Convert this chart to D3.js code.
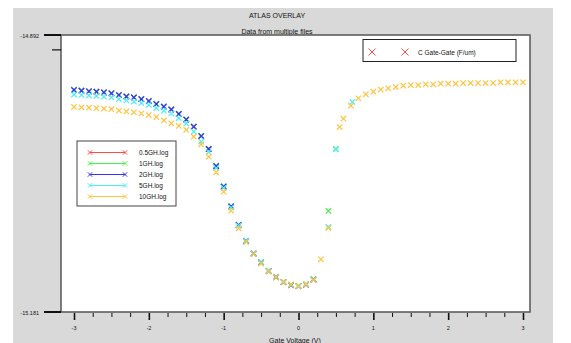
<!DOCTYPE html>
<html>
<head>
<meta charset="utf-8">
<script src="https://cdn.jsdelivr.net/npm/d3@7"></script>
<style>
  html, body { margin: 0; padding: 0; background: #fff; }
  svg { display: block; font-family: "Liberation Sans", Arial, sans-serif; }
</style>
</head>
<body>
<svg id="chart" width="571" height="343"></svg>
<script>
// gate voltage sweep shared by the 0.5/1/2/5 GHz files
const vSweep = [-3.0, -2.9, -2.8, -2.7, -2.6, -2.5, -2.4, -2.3, -2.2, -2.1, -2.0,
  -1.9, -1.8, -1.7, -1.6, -1.5, -1.4, -1.3, -1.2, -1.1, -1.0,
  -0.9, -0.8, -0.7, -0.6, -0.5, -0.4, -0.3, -0.2, -0.1, 0.0, 0.1, 0.2];

const logC05 = [-14.9492, -14.9501, -14.9509, -14.9513, -14.9520, -14.9529, -14.9547, -14.9560, -14.9571, -14.9590, -14.9610,
  -14.9641, -14.9667, -14.9699, -14.9745, -14.9804, -14.9878, -14.9975, -15.0111, -15.0289, -15.0503,
  -15.0712, -15.0905, -15.1072, -15.1203, -15.1296, -15.1385, -15.1448, -15.1500, -15.1531, -15.1541, -15.1526, -15.1476];

const logC1 = [-14.9490, -14.9499, -14.9506, -14.9511, -14.9517, -14.9527, -14.9544, -14.9561, -14.9571, -14.9587, -14.9607,
  -14.9637, -14.9665, -14.9695, -14.9742, -14.9800, -14.9875, -14.9972, -15.0106, -15.0284, -15.0498,
  -15.0706, -15.0900, -15.1067, -15.1198, -15.1291, -15.1380, -15.1443, -15.1495, -15.1526, -15.1537, -15.1521, -15.1468];
const vTail1 = [0.4, 0.5];
const logCTail1 = [-15.0756, -15.0109];

const logC2 = [-14.9494, -14.9501, -14.9507, -14.9512, -14.9518, -14.9528, -14.9546, -14.9562, -14.9572, -14.9588, -14.9609,
  -14.9640, -14.9668, -14.9697, -14.9744, -14.9802, -14.9877, -14.9974, -15.0109, -15.0287, -15.0501,
  -15.0709, -15.0902, -15.1069, -15.1200, -15.1293, -15.1382, -15.1445, -15.1497, -15.1528, -15.1539, -15.1523, -15.1471];

const logC5 = [-14.9541, -14.9546, -14.9551, -14.9556, -14.9564, -14.9572, -14.9588, -14.9603, -14.9614, -14.9629, -14.9650,
  -14.9682, -14.9710, -14.9739, -14.9786, -14.9843, -14.9927, -15.0033, -15.0141, -15.0308, -15.0516,
  -15.0720, -15.0908, -15.1069, -15.1200, -15.1293, -15.1382, -15.1445, -15.1497, -15.1528, -15.1539, -15.1523, -15.1471];
const vTail5 = [0.4, 0.5, 0.72];
const logCTail5 = [-15.0923, -15.0113, -14.9619];

// the 10 GHz file covers the whole sweep
const v10 = [-3.0, -2.9, -2.8, -2.7, -2.6, -2.5, -2.4, -2.3, -2.2, -2.1, -2.0,
  -1.9, -1.8, -1.7, -1.6, -1.5, -1.4, -1.3, -1.2, -1.1, -1.0,
  -0.9, -0.8, -0.7, -0.6, -0.5, -0.4, -0.3, -0.2, -0.1, 0.0, 0.1, 0.2, 0.3, 0.4,
  0.55, 0.6, 0.7, 0.8, 0.9, 1.0, 1.1, 1.2, 1.3, 1.4, 1.5, 1.6, 1.7, 1.8, 1.9, 2.0,
  2.1, 2.2, 2.3, 2.4, 2.5, 2.6, 2.7, 2.8, 2.9, 3.0];
const logC10 = [-14.9671, -14.9674, -14.9679, -14.9684, -14.9687, -14.9694, -14.9708, -14.9718, -14.9727, -14.9739, -14.9755,
  -14.9776, -14.9812, -14.9841, -14.9869, -14.9911, -14.9981, -15.0060, -15.0190, -15.0352, -15.0555,
  -15.0753, -15.0937, -15.1080, -15.1205, -15.1304, -15.1387, -15.1445, -15.1497, -15.1523, -15.1539, -15.1518, -15.1476, -15.1260, -15.0934,
  -14.9880, -14.9793, -14.9658, -14.9580, -14.9539, -14.9512, -14.9491, -14.9476, -14.9463, -14.9449, -14.9442, -14.9442, -14.9434, -14.9434, -14.9428, -14.9428,
  -14.9428, -14.9421, -14.9421, -14.9421, -14.9421, -14.9421, -14.9414, -14.9414, -14.9414, -14.9414];

const fileNames = ['0.5GH.log', '1GH.log', '2GH.log', '5GH.log', '10GH.log'];
const fileColors = ['#ff4a4a', '#4aee4a', '#3232ff', '#4af0f5', '#ffc440'];
const xTickLabels = ['-3', '-2', '-1', '0', '1', '2', '3'];
const yRange = [-15.181, -14.892];
const yTickLabels = ['-15.181', '-14.892'];

const zip = (vs, cs) => vs.map((v, i) => ({ v, c: cs[i] }));
const series = [
  zip(vSweep, logC05),
  zip(vSweep, logC1).concat(zip(vTail1, logCTail1)),
  zip(vSweep, logC2),
  zip(vSweep, logC5).concat(zip(vTail5, logCTail5)),
  zip(v10, logC10),
];

const svg = d3.select('#chart');
const plot = { left: 61, top: 35, right: 530, bottom: 312 };

const x = d3.scaleLinear().domain([-3, 3]).range([74, 523]);
const y = d3.scaleLinear().domain(yRange).range([plot.bottom, plot.top]);

const cross = (s) => `M${-s},${-s}L${s},${s}M${-s},${s}L${s},${-s}`;

// grey panel
svg.append('rect')
  .attr('x', 13).attr('y', 8)
  .attr('width', 540).attr('height', 340)
  .attr('fill', '#d9d9d9');

svg.append('text')
  .attr('x', 277).attr('y', 18)
  .attr('text-anchor', 'middle')
  .attr('font-size', 7)
  .attr('fill', '#111')
  .text('ATLAS OVERLAY');

svg.append('text')
  .attr('x', 277).attr('y', 34)
  .attr('text-anchor', 'middle')
  .attr('font-size', 7)
  .attr('fill', '#111')
  .text('Data from multiple files');

svg.append('rect')
  .attr('x', plot.left).attr('y', plot.top)
  .attr('width', plot.right - plot.left)
  .attr('height', plot.bottom - plot.top)
  .attr('fill', '#fff')
  .attr('stroke', '#555')
  .attr('stroke-width', 1.5);

// y axis: only the end values are labelled
const yAxis = svg.append('g').attr('stroke', '#111');
yAxis.selectAll('line.major')
  .data(yRange)
  .join('line')
  .attr('class', 'major')
  .attr('x1', 44).attr('x2', plot.left)
  .attr('y1', (d) => y(d)).attr('y2', (d) => y(d))
  .attr('stroke-width', 2);
yAxis.append('line')
  .attr('x1', 52).attr('x2', plot.left)
  .attr('y1', y(-14.9075)).attr('y2', y(-14.9075))
  .attr('stroke-width', 1.2);

svg.selectAll('text.ylab')
  .data(yRange)
  .join('text')
  .attr('class', 'ylab')
  .attr('x', 39)
  .attr('y', (d) => y(d) + 3)
  .attr('text-anchor', 'end')
  .attr('font-size', 5.5)
  .attr('fill', '#111')
  .text((d, i) => yTickLabels[i]);

// x axis, ticks hang under the frame
const xAxis = d3.axisBottom(x)
  .tickValues(d3.range(-3, 3.001, 0.25))
  .tickSize(4)
  .tickFormat(() => '');
const gx = svg.append('g')
  .attr('transform', `translate(0,${plot.bottom + 1})`)
  .call(xAxis);
gx.select('.domain').remove();
gx.selectAll('.tick line')
  .attr('stroke', '#111')
  .attr('stroke-width', (d) => (Number.isInteger(d) ? 1.6 : 1))
  .attr('y2', (d) => (Number.isInteger(d) ? 7 : 4));

svg.selectAll('text.xlab')
  .data(d3.range(-3, 4))
  .join('text')
  .attr('class', 'xlab')
  .attr('x', (d) => x(d))
  .attr('y', 330)
  .attr('text-anchor', 'middle')
  .attr('font-size', 5.5)
  .attr('fill', '#111')
  .text((d, i) => xTickLabels[i]);

// axis title sits on the bottom edge, as in the source image
svg.append('text')
  .attr('x', 295).attr('y', 343)
  .attr('text-anchor', 'middle')
  .attr('font-size', 7)
  .attr('fill', '#111')
  .text('Gate Voltage (V)');

// markers
series.forEach((pts, i) => {
  svg.append('g')
    .selectAll('path')
    .data(pts)
    .join('path')
    .attr('transform', (d) => `translate(${x(d.v)},${y(d.c)})`)
    .attr('d', cross(2.7))
    .attr('fill', 'none')
    .attr('stroke', fileColors[i])
    .attr('stroke-width', 1.2);
});

// quantity legend
svg.append('rect')
  .attr('x', 363).attr('y', 39.5)
  .attr('width', 153).attr('height', 22)
  .attr('fill', '#fff')
  .attr('stroke', '#222')
  .attr('stroke-width', 1);
svg.selectAll('path.qmark')
  .data([372, 405])
  .join('path')
  .attr('class', 'qmark')
  .attr('transform', (d) => `translate(${d},52)`)
  .attr('d', cross(3.5))
  .attr('stroke', '#ff5050')
  .attr('stroke-width', 1);
svg.append('text')
  .attr('x', 418).attr('y', 55)
  .attr('font-size', 6.5)
  .attr('fill', '#111')
  .text('C Gate-Gate (F/um)');

// file legend
svg.append('rect')
  .attr('x', 77).attr('y', 141)
  .attr('width', 99).attr('height', 65)
  .attr('fill', '#fff')
  .attr('stroke', '#444')
  .attr('stroke-width', 1);

const leg = svg.selectAll('g.leg')
  .data(fileNames)
  .join('g')
  .attr('class', 'leg')
  .attr('transform', (d, i) => `translate(0,${152.5 + i * 11})`);
leg.append('line')
  .attr('x1', 90).attr('x2', 125)
  .attr('stroke', (d, i) => fileColors[i])
  .attr('stroke-width', 1.2);
[90, 125].forEach((px) => {
  leg.append('path')
    .attr('transform', `translate(${px},0)`)
    .attr('d', cross(2.2))
    .attr('stroke', (d, i) => fileColors[i])
    .attr('stroke-width', 1);
});
leg.append('text')
  .attr('x', 139).attr('y', 2.3)
  .attr('font-size', 6.5)
  .attr('fill', '#111')
  .text((d) => d);
</script>
</body>
</html>
